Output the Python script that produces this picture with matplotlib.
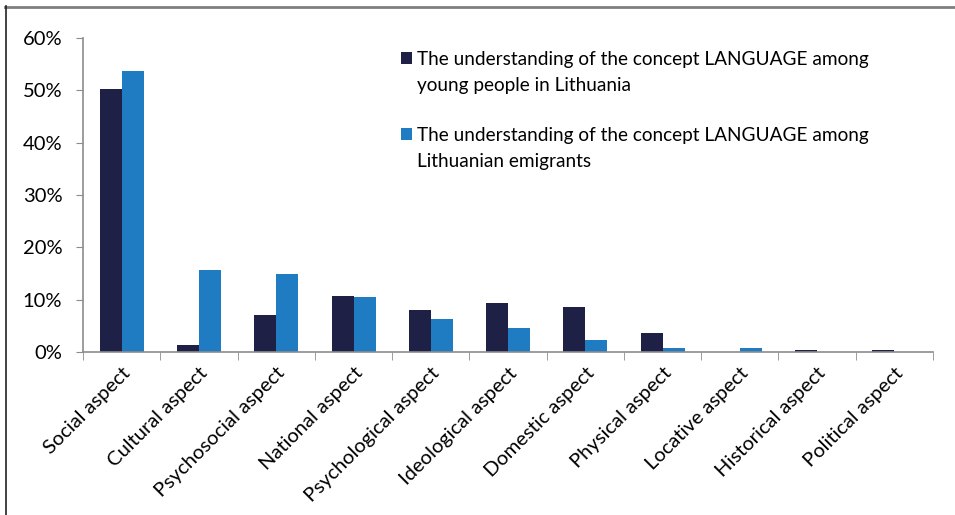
import matplotlib

matplotlib.use("Agg")

import matplotlib.pyplot as plt
import numpy as np
from matplotlib.lines import Line2D
from matplotlib.patches import Rectangle
from matplotlib.ticker import FuncFormatter

categories = [
    "Social aspect",
    "Cultural aspect",
    "Psychosocial aspect",
    "National aspect",
    "Psychological aspect",
    "Ideological aspect",
    "Domestic aspect",
    "Physical aspect",
    "Locative aspect",
    "Historical aspect",
    "Political aspect",
]
young_lithuania = [50.3, 1.3, 7.1, 10.7, 8.0, 9.4, 8.6, 3.6, 0.0, 0.3, 0.3]
emigrants = [53.8, 15.7, 15.0, 10.5, 6.4, 4.5, 2.3, 0.8, 0.8, 0.0, 0.0]
y_ticks = [0, 10, 20, 30, 40, 50, 60]

series_labels = [
    "The understanding of the concept LANGUAGE among\nyoung people in Lithuania",
    "The understanding of the concept LANGUAGE among\nLithuanian emigrants",
]
series_colors = ["#1f2046", "#1f7bc2"]

plt.rcParams["font.family"] = ["Lato", "DejaVu Sans"]

fig = plt.figure(figsize=(9.55, 5.15), dpi=100)
ax = fig.add_axes([0.087, 0.3165, 0.89, 0.6095])

x = np.arange(len(categories))
bar_width = 0.285
ax.bar(x - bar_width / 2, young_lithuania, width=bar_width, color=series_colors[0])
ax.bar(x + bar_width / 2, emigrants, width=bar_width, color=series_colors[1])

ax.set_xlim(-0.5, len(categories) - 0.5)
ax.set_ylim(0, 60)
ax.set_yticks(y_ticks)
ax.yaxis.set_major_formatter(FuncFormatter(lambda v, _: f"{v:.0f}%"))

ax.set_xticks(x)
ax.set_xticklabels(categories, rotation=45, ha="right", rotation_mode="anchor")
ax.set_xticks(np.arange(len(categories) + 1) - 0.5, minor=True)
ax.tick_params(axis="x", which="major", length=0, pad=9, labelsize=14.5)
ax.tick_params(axis="x", which="minor", length=6, color="#8c8c8c", direction="out")
ax.tick_params(axis="y", length=5, color="#8c8c8c", labelsize=14.5, pad=10)

for side in ["top", "right"]:
    ax.spines[side].set_visible(False)
for side in ["left", "bottom"]:
    ax.spines[side].set_color("#8c8c8c")
    ax.spines[side].set_linewidth(1.2)

# legend drawn by hand so the marker sits on the first text line
legend_x = 417 / 955
for i, (label, color) in enumerate(zip(series_labels, series_colors)):
    y_top = 1 - (51 + i * 76) / 515
    fig.text(legend_x, y_top, label, fontsize=13.7, va="top", ha="left", linespacing=1.62)
    fig.patches.append(
        Rectangle(
            (401 / 955, 1 - (64 + i * 76) / 515),
            11 / 955,
            12 / 515,
            transform=fig.transFigure,
            facecolor=color,
            edgecolor="none",
        )
    )

# outer frame: grey top edge and dark left edge
fig.add_artist(Line2D([5 / 955, 1], [1 - 6.5 / 515] * 2, transform=fig.transFigure, color="#7f7f7f", linewidth=2))
fig.add_artist(Line2D([5.5 / 955] * 2, [0, 1 - 6 / 515], transform=fig.transFigure, color="#222222", linewidth=1.2))

fig.savefig("out.png", dpi=100)
plt.close(fig)
